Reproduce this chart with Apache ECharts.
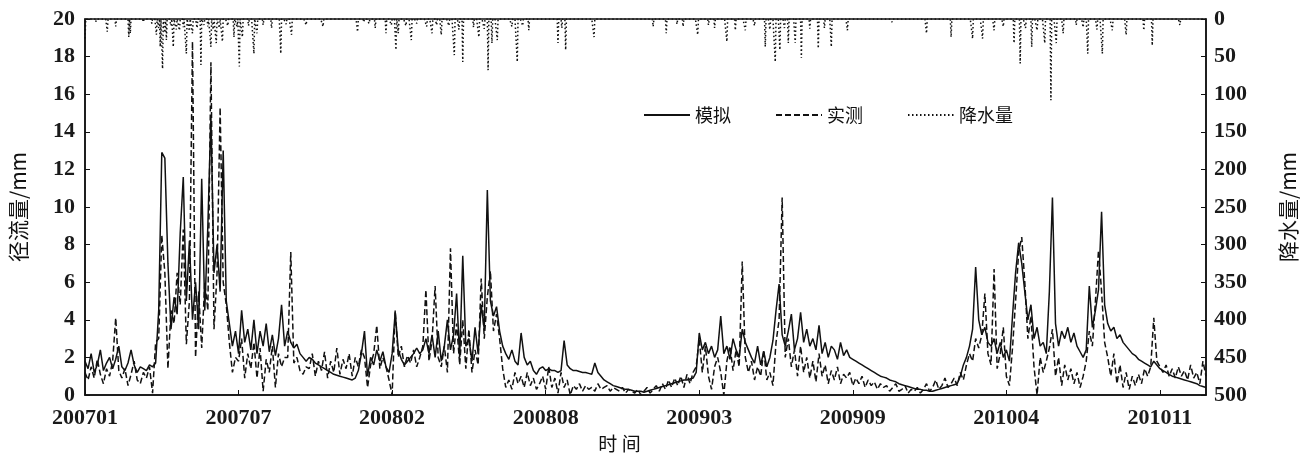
<!DOCTYPE html>
<html>
<head>
<meta charset="utf-8">
<script src="https://cdn.jsdelivr.net/npm/echarts@6/dist/echarts.min.js"></script>
<style>
  html, body { margin: 0; padding: 0; background: #fff; }
  #chart { width: 1307px; height: 460px; }
</style>
</head>
<body>
<div id="chart"></div>
<script>
// day 0 = 2007-01-01, runoff read every 4 days
const STEP = 4;
const tickLabels = ['200701', '200707', '200802', '200808', '200903', '200909', '201004', '201011'];

// 模拟 径流 (mm)
const simRunoff = [
  1.8,1.4,2.2,1.2,1.6,2.4,1.3,1.7,2.0,1.4,
  1.9,2.6,1.5,1.3,1.7,2.4,1.6,1.2,1.5,1.4,
  1.3,1.6,1.5,1.7,4.5,12.9,12.6,7.0,3.5,5.2,
  4.3,8.6,11.6,5.0,8.2,4.0,6.0,3.5,11.5,4.5,
  9.0,14.8,6.5,8.0,5.5,13.0,5.0,3.8,2.6,3.4,
  2.2,4.5,2.8,3.5,2.4,4.0,2.2,3.4,2.6,3.8,
  2.3,3.2,2.1,3.0,4.8,2.6,3.4,2.8,2.5,2.7,
  2.2,2.0,1.8,2.0,1.9,1.7,1.6,1.5,1.4,1.3,
  1.2,1.1,1.05,1.0,0.95,0.9,0.85,0.8,0.9,1.3,
  2.2,3.4,1.0,2.0,1.6,2.4,1.8,2.3,1.5,1.2,
  2.2,4.4,2.4,1.9,1.6,1.8,2.0,2.2,2.5,2.2,
  2.4,3.0,2.2,3.2,2.0,3.4,1.8,2.6,4.0,2.4,
  3.2,5.4,2.0,7.4,2.6,3.0,1.8,3.6,2.2,4.8,
  3.5,10.9,5.0,4.2,4.7,3.4,2.6,2.2,1.9,2.4,
  1.8,1.6,3.3,2.0,1.6,1.8,1.3,1.1,1.4,1.5,
  1.3,1.4,1.3,1.3,1.2,1.3,2.9,1.6,1.4,1.3,
  1.3,1.25,1.2,1.2,1.15,1.1,1.7,1.2,1.0,0.8,
  0.7,0.6,0.5,0.45,0.4,0.35,0.3,0.3,0.25,0.2,
  0.2,0.2,0.15,0.2,0.25,0.3,0.35,0.4,0.45,0.5,
  0.55,0.6,0.65,0.7,0.75,0.8,0.8,0.85,0.9,1.2,
  3.3,2.4,2.8,2.2,2.6,2.0,2.4,4.2,2.2,2.6,
  1.9,3.0,2.4,2.0,3.5,2.8,2.4,2.0,1.7,2.6,
  1.6,2.3,1.5,2.0,2.9,4.5,5.9,3.2,2.6,3.4,
  4.3,2.4,3.0,4.4,2.8,3.5,2.6,3.0,2.4,3.7,
  2.2,2.8,2.0,2.6,2.4,1.9,2.8,2.1,2.4,2.0,
  1.9,1.8,1.7,1.6,1.5,1.4,1.3,1.2,1.1,1.0,
  0.95,0.9,0.8,0.75,0.7,0.6,0.55,0.5,0.45,0.4,
  0.35,0.3,0.3,0.25,0.25,0.2,0.2,0.25,0.3,0.35,
  0.4,0.45,0.5,0.55,0.6,1.0,1.6,2.0,2.6,3.5,
  6.8,4.0,3.2,3.6,2.8,2.6,3.0,2.2,2.8,2.0,
  2.4,1.8,4.2,6.5,8.1,7.0,5.5,4.0,4.8,3.0,
  3.6,2.6,2.8,2.2,5.5,10.5,3.8,2.6,3.4,3.0,
  3.6,2.8,3.3,2.6,2.3,2.0,2.4,5.8,3.6,4.5,
  5.6,9.75,4.8,3.8,3.4,3.6,3.0,3.2,2.8,2.6,
  2.4,2.2,2.1,1.9,1.8,1.7,1.6,1.5,1.8,1.6,
  1.4,1.3,1.2,1.1,1.0,0.95,0.9,0.85,0.8,0.75,
  0.7,0.65,0.6,0.5,0.45,0.4
];

// 实测 径流 (mm)
const obsRunoff = [
  1.2,0.8,1.5,0.9,1.9,1.1,0.6,1.4,1.0,1.8,
  4.1,1.3,0.9,1.4,0.5,1.1,1.8,0.8,0.6,1.2,
  0.9,1.5,0.1,2.8,3.0,8.5,6.5,1.4,4.5,3.8,
  6.5,4.8,8.8,2.7,5.0,18.8,2.0,5.5,2.5,6.0,
  4.5,17.7,3.5,6.5,15.3,6.0,4.8,2.8,1.2,2.0,
  1.8,3.0,0.9,2.2,1.4,2.8,0.9,2.5,0.2,1.9,
  1.2,2.6,0.4,2.2,1.5,2.0,2.0,7.6,1.7,2.0,
  1.3,1.1,1.5,1.4,2.2,1.0,1.8,1.3,2.3,0.9,
  1.8,1.2,2.5,1.1,1.9,1.4,2.2,1.0,2.0,1.5,
  2.4,2.0,0.4,1.6,2.2,3.7,1.4,2.0,1.5,0.8,
  0.0,4.5,2.0,2.6,1.5,2.1,1.7,2.4,1.5,2.0,
  2.6,5.6,1.8,2.9,5.8,2.0,1.5,2.6,1.2,7.8,
  2.2,3.8,1.6,4.0,1.4,3.5,1.2,2.4,1.6,6.2,
  3.0,5.2,6.6,3.4,4.3,3.0,1.4,0.4,0.8,0.3,
  1.2,0.6,1.0,0.4,1.2,0.5,0.9,0.3,0.6,1.0,
  0.3,1.5,0.4,0.9,0.1,1.2,0.4,0.8,0.0,0.5,
  0.3,0.6,0.2,0.5,0.3,0.4,0.2,0.6,0.3,0.4,
  0.5,0.2,0.4,0.3,0.2,0.4,0.1,0.3,0.2,0.1,
  0.3,0.0,0.2,0.4,0.1,0.3,0.5,0.2,0.6,0.3,
  0.8,0.4,0.9,0.5,1.0,0.4,1.1,0.6,1.2,1.5,
  3.0,1.2,2.6,1.0,0.3,1.5,2.0,1.2,0.0,1.8,
  2.6,1.3,2.4,1.5,7.1,2.0,1.2,1.8,0.8,1.5,
  1.0,2.4,0.8,1.2,0.5,2.8,4.0,10.5,2.0,3.0,
  1.5,2.4,1.0,2.6,1.2,2.0,0.9,1.8,0.7,2.2,
  1.0,1.6,0.6,1.3,0.8,1.5,0.6,1.1,0.9,1.2,
  0.5,0.9,0.6,1.0,0.4,0.8,0.5,0.7,0.3,0.6,
  0.4,0.5,0.2,0.4,0.6,0.2,0.3,0.5,0.1,0.3,
  0.2,0.4,0.1,0.3,0.6,0.2,0.4,0.8,0.3,0.5,
  0.9,0.4,0.6,0.9,0.5,1.2,0.8,1.6,2.2,1.8,
  3.0,2.5,3.2,5.4,2.2,1.6,6.7,1.4,2.2,3.6,
  1.0,0.5,2.5,5.0,7.6,8.4,6.0,3.0,4.2,1.5,
  0.0,2.0,1.2,1.8,2.5,3.5,1.0,2.0,0.5,1.6,
  0.8,1.4,0.6,1.2,0.4,1.0,1.8,3.4,2.6,5.0,
  7.7,5.5,2.8,2.0,1.0,2.2,0.6,1.6,0.4,1.2,
  0.3,1.0,0.5,1.1,0.6,1.4,1.0,1.5,4.1,1.8,
  1.5,1.2,1.6,1.0,1.4,0.9,1.5,1.0,1.3,0.8,
  1.6,0.9,1.2,0.6,1.8,1.0
];

// 降水 events: day index and mm
const rainDays = [
  0,14,29,40,57,59,76,87,93,96,98,101,104,106,112,115,119,123,128,132,136,140,146,151,155,160,164,167,171,175,179,186,194,198,201,205,213,220,224,232,243,255,262,269,288,
  310,355,363,370,378,392,399,405,408,418,425,432,445,452,458,464,474,481,487,492,506,513,520,525,530,537,556,563,570,578,
  616,621,626,663,687,740,757,771,779,798,812,820,836,847,860,872,886,
  892,899,905,911,916,925,933,944,955,963,972,993,1051,1096,1128,1156,1169,
  1184,1196,1210,1218,1225,1233,1240,1250,1258,1265,1274,1291,1300,1306,1318,1325,1338,1356,1379,1390,1426
];
const rainMm = [
  26,4,17,10,24,19,4,6,21,12,37,66,18,28,9,37,14,15,11,46,16,19,12,61,8,10,37,14,32,12,30,9,24,10,63,24,9,46,19,8,12,46,7,21,8,
  10,17,4,6,12,19,8,41,19,9,28,6,10,19,8,21,9,48,14,57,11,24,13,68,32,28,10,57,9,15,
  32,12,41,24,2,10,19,7,10,21,8,12,30,15,15,9,37,
  14,57,41,12,32,32,52,13,39,12,37,15,4,19,24,26,26,
  15,10,32,59,12,37,15,32,108,32,19,8,11,46,14,46,15,21,15,35,8
];

const LAST_DAY = 1460;
const rainDaily = new Array(LAST_DAY + 1).fill(0);
rainDays.forEach((d, k) => { rainDaily[d] = rainMm[k]; });

const chart = echarts.init(document.getElementById('chart'));
const serif = '"Liberation Serif", "DejaVu Serif", serif';
const cjk = '"Noto Sans CJK SC", sans-serif';

chart.setOption({
  animation: false,
  backgroundColor: '#fff',
  grid: {
    left: 79, right: 92, top: 19, bottom: 65,
    show: true, borderColor: '#111', borderWidth: 1.5
  },
  legend: {
    left: 638, top: 101,
    itemWidth: 46, itemHeight: 4, itemGap: 44,
    itemStyle: { opacity: 0 },
    textStyle: { fontFamily: cjk, fontSize: 18, color: '#111' },
    data: ['模拟', '实测', '降水量']
  },
  xAxis: {
    type: 'value', min: 0, max: LAST_DAY, interval: 200,
    name: '时 间', nameLocation: 'middle', nameGap: 28,
    nameTextStyle: { fontFamily: cjk, fontSize: 19, color: '#111', padding: [0, 52, 0, 0] },
    axisLine: { lineStyle: { color: '#111', width: 1.5 } },
    axisTick: { inside: true, length: 5, lineStyle: { color: '#111' } },
    axisLabel: {
      fontFamily: serif, fontSize: 22, fontWeight: 'bold', color: '#1a1a1a', margin: 12, showMaxLabel: false,
      formatter: v => tickLabels[v / 200] || ''
    },
    splitLine: { show: false }
  },
  yAxis: [
    {
      type: 'value', min: 0, max: 20, interval: 2,
      name: '径流量/mm', nameLocation: 'middle', nameGap: 56, nameRotate: 90,
      nameTextStyle: { fontFamily: cjk, fontSize: 21, color: '#111' },
      axisLine: { show: true, lineStyle: { color: '#111', width: 1.5 } },
      axisTick: { show: true, inside: true, length: 5, lineStyle: { color: '#111' } },
      axisLabel: { fontFamily: serif, fontSize: 22, fontWeight: 'bold', color: '#1a1a1a', margin: 10 },
      splitLine: { show: false }
    },
    {
      type: 'value', min: 0, max: 500, interval: 50, inverse: true, position: 'right',
      name: '降水量/mm', nameLocation: 'middle', nameGap: 72, nameRotate: 90,
      nameTextStyle: { fontFamily: cjk, fontSize: 21, color: '#111' },
      axisLine: { show: true, lineStyle: { color: '#111', width: 1.5 } },
      axisTick: { show: true, inside: true, length: 5, lineStyle: { color: '#111' } },
      axisLabel: { fontFamily: serif, fontSize: 22, fontWeight: 'bold', color: '#1a1a1a', margin: 8 },
      splitLine: { show: false }
    }
  ],
  series: [
    {
      name: '模拟', type: 'line', yAxisIndex: 0, symbol: 'none',
      lineStyle: { color: '#111', width: 1.5 },
      itemStyle: { color: '#111' },
      data: simRunoff.map((v, i) => [i * STEP, v])
    },
    {
      name: '实测', type: 'line', yAxisIndex: 0, symbol: 'none',
      lineStyle: { color: '#111', width: 1.5, type: [6, 3] },
      itemStyle: { color: '#111' },
      data: obsRunoff.map((v, i) => [i * STEP, v])
    },
    {
      name: '降水量', type: 'line', yAxisIndex: 1, symbol: 'none',
      lineStyle: { color: '#111', width: 1.5, type: [1.5, 2.5] },
      itemStyle: { color: '#111' },
      data: rainDaily.map((v, d) => [d, v])
    }
  ]
});
</script>
</body>
</html>
